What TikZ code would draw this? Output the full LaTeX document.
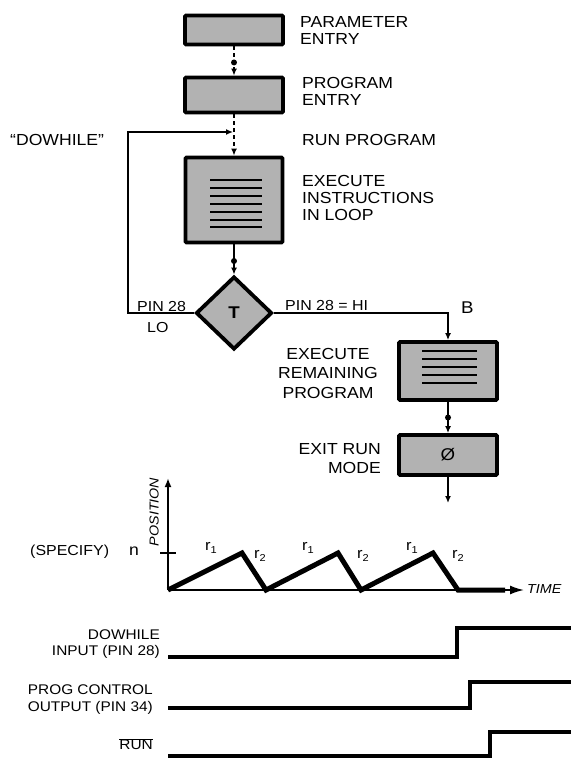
\documentclass[tikz,border=0pt]{standalone}
\usepackage{fontspec}
\setmainfont[FakeStretch=1.1]{Liberation Sans}
\usetikzlibrary{shapes.geometric,arrows.meta,calc}
\tikzset{
  blk/.style={draw=black,line width=3.8pt,fill=gray!60,inner sep=0pt,rounded corners=1pt},
  lbl/.style={inner sep=0pt,font=\fontsize{16}{17}\selectfont},
  slbl/.style={inner sep=0pt,font=\fontsize{14.5}{16}\selectfont},
  conn/.style={line width=1.8pt,-{Latex[length=7pt,width=6pt]}},
  dconn/.style={conn,dash pattern=on 4pt off 3pt},
  dotpt/.style={circle,fill=black,inner sep=0pt,minimum size=6pt},
  inline/.style={line width=1.4pt},
  sig/.style={line width=3.5pt,line join=miter},
  ax/.style={line width=1.8pt}
}
\newcommand{\rsub}[1]{r\raisebox{-3pt}{\fontsize{10}{10}\selectfont #1}}
\begin{document}
\begin{tikzpicture}[x=1pt,y=-1pt]
\useasboundingbox (0,0) rectangle (571,759);

% ---------- flow chart boxes ----------
\node[blk,minimum width=98pt,minimum height=29pt] (param) at (234,30) {};
\node[blk,minimum width=98pt,minimum height=35pt] (prog) at (234,95) {};
\node[blk,minimum width=97pt,minimum height=85pt] (exec) at (234,200) {};
\foreach \yy in {180,188,196,204,212,220,227}
  \draw[inline] (210,\yy) -- (262,\yy);
\node[draw=black,line width=3.8pt,fill=gray!60,shape=diamond,minimum width=76pt,minimum height=73pt,inner sep=0pt,font=\bfseries\fontsize{17}{17}\selectfont] (dia) at (234,313) {T};
\node[blk,minimum width=98pt,minimum height=58pt] (rem) at (448,371) {};
\foreach \yy in {351,359,367,375,383}
  \draw[inline] (422,\yy) -- (477,\yy);
\node[blk,minimum width=98pt,minimum height=40pt,font=\fontsize{17}{17}\selectfont] (exit) at (448,455) {Ø};

% ---------- coordinates ----------
\coordinate (run) at (233,132);
\coordinate (loopL) at (128,313);
\coordinate (loopT) at (128,132);
\coordinate (bturn) at (448,313);
\coordinate (out) at (448,503);

% ---------- connectors ----------
\draw[dconn] (param.south) -- node[dotpt,pos=0.55]{} (prog.north);
\draw[dconn] (prog.south) -- (exec.north);
\draw[conn] (exec.south) -- node[dotpt,pos=0.55]{} (dia.north);
\draw[conn,line width=2pt] (dia.west) -- (loopL) -- (loopT) -- (run);
\draw[conn,line width=2pt] (dia.east) -- (bturn) -- (rem.north);
\draw[conn] (rem.south) -- node[dotpt,pos=0.5]{} (exit.north);
\draw[conn] (exit.south) -- (out);

% ---------- flow labels ----------
\node[lbl,anchor=north west,align=left] (lparam) at (300,16) {PARAMETER\\ENTRY};
\node[lbl,anchor=north west,align=left] (lprog) at (302,77) {PROGRAM\\ENTRY};
\node[lbl,anchor=north west] (lrun) at (302,134) {RUN PROGRAM};
\node[lbl,anchor=north west,align=left] (lexec) at (302,175) {EXECUTE\\INSTRUCTIONS\\IN LOOP};
\node[lbl,anchor=north west] (ldow) at (10,134) {“DOWHILE”};
\node[slbl,anchor=north west] (lpin) at (137,301) {PIN 28};
\node[slbl,anchor=north west] (llo) at (147,322) {LO};
\node[slbl,anchor=north west] (lhi) at (285,300) {PIN 28 = HI};
\node[lbl,anchor=north west,font=\fontsize{17}{17}\selectfont] (lb) at (461,302) {B};
\node[lbl,anchor=north,align=center,font=\fontsize{16}{19.5}\selectfont] (lrem) at (328,348) {EXECUTE\\REMAINING\\PROGRAM};
\node[lbl,anchor=north east,align=right,font=\fontsize{16}{19}\selectfont] (lexit) at (381,443) {EXIT RUN\\MODE};

% ---------- position graph ----------
\coordinate (org) at (168,590);
\coordinate (ytop) at (168,478);
\coordinate (xend) at (524,590);
\draw[ax,-{Latex[length=9pt,width=7pt]}] (org) -- (ytop);
\draw[ax,-{Latex[length=14pt,width=9pt]}] (org) -- (xend);
\draw[ax] (160,553) -- (176,553);
\draw[line width=5pt,line join=miter] (org) -- (242,553) -- (266,590) -- (338,553) -- (361,590) -- (433,553) -- (458,590) -- (505,590);
\node[slbl,anchor=south,rotate=90,font=\itshape\fontsize{13}{13}\selectfont] (lpos) at (159,512) {POSITION};
\node[slbl,anchor=west,font=\itshape\fontsize{13}{13}\selectfont] (ltime) at (527,589) {TIME};
\node[slbl,anchor=west] (lspec) at (30,552) {(SPECIFY)};
\node[slbl,anchor=west,font=\fontsize{16}{16}\selectfont] (ln) at (129,551) {n};
\foreach \xx/\lab/\yy in {211/1/548,260/2/556,308/1/548,363/2/556,412/1/548,458/2/556}
  \node[inner sep=0pt,font=\fontsize{15}{15}\selectfont] at (\xx,\yy) {\rsub{\lab}};

% ---------- timing diagram ----------
\draw[sig] (168,657) -- (457,657) -- (457,628) -- (571,628);
\draw[sig] (168,708) -- (470,708) -- (470,682) -- (571,682);
\draw[sig] (168,756) -- (490,756) -- (490,732) -- (571,732);
\node[slbl,anchor=north east,align=right,font=\fontsize{14}{15.5}\selectfont] (ldin) at (160,630) {DOWHILE\\INPUT (PIN 28)};
\node[slbl,anchor=north east,align=right,font=\fontsize{14}{16.5}\selectfont] (lpc) at (153,685) {PROG CONTROL\\OUTPUT (PIN 34)};
\node[slbl,anchor=north east,font=\fontsize{14}{15}\selectfont] (lrn) at (153,738) {$\overline{\mbox{RUN}}$};
\end{tikzpicture}
\end{document}
